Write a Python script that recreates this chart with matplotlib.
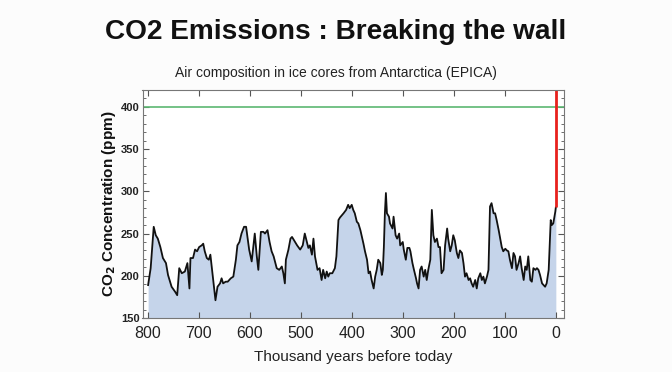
import matplotlib
matplotlib.use("Agg")
import matplotlib.pyplot as plt
from matplotlib.ticker import MultipleLocator

plt.rcParams['font.family'] = ['Liberation Sans', 'DejaVu Sans']

# EPICA CO2 record (thousand years BP, ppm)
age = [799, 794, 788, 784, 780, 775, 770, 764, 760, 753, 746, 742, 738, 733, 727,
       722, 718, 716, 711, 707, 703, 699, 694, 691, 688, 684, 680, 677, 673, 670,
       667, 663, 658, 655, 652, 647, 643, 637, 632, 627, 624, 620, 616, 611, 607,
       601, 596, 593, 590, 586, 583, 578, 573, 570, 565, 561, 557, 553, 547, 542,
       537, 534, 531, 529, 524, 520, 517, 511, 507, 501, 496, 492, 488, 485, 482,
       478, 475, 472, 467, 463, 459, 456, 452, 449, 446, 443, 438, 433, 430, 426,
       423, 416, 411, 407, 404, 400, 397, 394, 390, 387, 383, 380, 377, 374, 370,
       367, 364, 361, 357, 354, 351, 348, 344, 341, 339, 337, 335, 333, 331, 327,
       325, 320, 318, 314, 311, 307, 305, 300, 298, 294, 291, 287, 285, 281, 278,
       274, 272, 269, 266, 263, 259, 256, 253, 250, 246, 243, 240, 237, 233, 230,
       227, 224, 220, 217, 213, 211, 207, 204, 201, 198, 194, 191, 188, 184, 181,
       178, 175, 171, 168, 165, 162, 158, 155, 152, 148, 145, 142, 139, 135, 132,
       129, 126, 122, 119, 116, 112, 109, 106, 103, 99, 96, 93, 90, 86, 83,
       80, 77, 73, 70, 67, 63, 60, 57, 54, 50, 47, 44, 40, 37, 34,
       31, 27, 24, 21, 18, 14, 12, 10, 8, 5, 1, 0]
co2 = [189, 209, 258, 248, 244, 234, 221, 215, 201, 187, 181, 177, 209, 203, 205,
       215, 185, 221, 221, 231, 229, 234, 236, 238, 229, 221, 219, 225, 203, 187,
       171, 187, 191, 197, 191, 193, 193, 197, 199, 219, 236, 240, 250, 258, 258,
       231, 217, 234, 250, 223, 207, 252, 252, 250, 254, 240, 229, 223, 209, 207,
       211, 203, 191, 219, 231, 244, 246, 240, 236, 231, 236, 250, 240, 233, 236,
       225, 244, 223, 207, 209, 195, 207, 197, 205, 199, 203, 203, 209, 223, 266,
       269, 274, 278, 284, 280, 284, 278, 274, 264, 262, 254, 246, 238, 229, 219,
       203, 205, 195, 185, 199, 207, 219, 215, 201, 207, 234, 274, 298, 274, 270,
       262, 256, 270, 248, 244, 250, 236, 240, 231, 219, 233, 233, 229, 215, 207,
       197, 191, 185, 207, 211, 199, 207, 195, 207, 219, 278, 248, 240, 244, 234,
       234, 203, 207, 236, 256, 244, 229, 236, 248, 242, 227, 221, 230, 227, 215,
       199, 203, 195, 197, 191, 187, 195, 185, 197, 203, 195, 199, 191, 199, 207,
       282, 286, 274, 274, 266, 254, 244, 234, 229, 232, 230, 229, 219, 209, 227,
       223, 207, 215, 223, 209, 195, 211, 207, 223, 195, 193, 209, 207, 209, 207,
       201, 191, 189, 187, 191, 207, 238, 266, 260, 262, 276, 281]

modern = [281, 430]
limit = 400

fig = plt.figure(figsize=(6.72, 3.72), dpi=100)
fig.patch.set_facecolor('#fcfcfc')
ax = fig.add_axes([142.5 / 672, 1 - 318 / 372, (564 - 142.5) / 672, (318 - 90) / 372])
ax.set_facecolor('white')

ax.fill_between(age, co2, 150, color='#c5d4ea', lw=0)
ax.plot(age, co2, color='#111111', lw=1.3)
ax.axhline(limit, color='#5cb872', lw=1.2)
ax.plot([0, 0], modern, color='#e8211d', lw=2.0, solid_capstyle='butt')

ax.set_xlim(810, -16)
ax.set_ylim(150, 420)
ax.xaxis.set_major_locator(MultipleLocator(100))
ax.yaxis.set_major_locator(MultipleLocator(50))
ax.yaxis.set_minor_locator(MultipleLocator(10))
ax.tick_params(which='both', direction='in', top=True, right=True, colors='#555555')
ax.tick_params(which='major', length=4, width=0.8)
ax.tick_params(which='minor', length=2, width=0.6)
ax.tick_params(axis='x', labelsize=11.5, labelcolor='#222222', pad=6)
ax.tick_params(axis='y', labelsize=8, labelcolor='#222222', pad=2)
for lbl in ax.get_yticklabels():
    lbl.set_fontweight('bold')
for sp in ax.spines.values():
    sp.set_color('#777777')
    sp.set_linewidth(0.8)

ax.set_xlabel('Thousand years before today', fontsize=11, color='#222222', labelpad=6)
ax.set_ylabel('CO$_\\mathbf{2}$ Concentration (ppm)', fontsize=11, fontweight='bold',
              color='#111111', labelpad=2)

fig.text(0.5, 1 - 32 / 372, 'CO2 Emissions : Breaking the wall', ha='center', va='center',
         fontsize=20.2, fontweight='bold', color='#111111')
fig.text(0.5, 1 - 73 / 372, 'Air composition in ice cores from Antarctica (EPICA)',
         ha='center', va='center', fontsize=10, color='#222222')

fig.savefig('out.png', dpi=100, facecolor=fig.get_facecolor())
